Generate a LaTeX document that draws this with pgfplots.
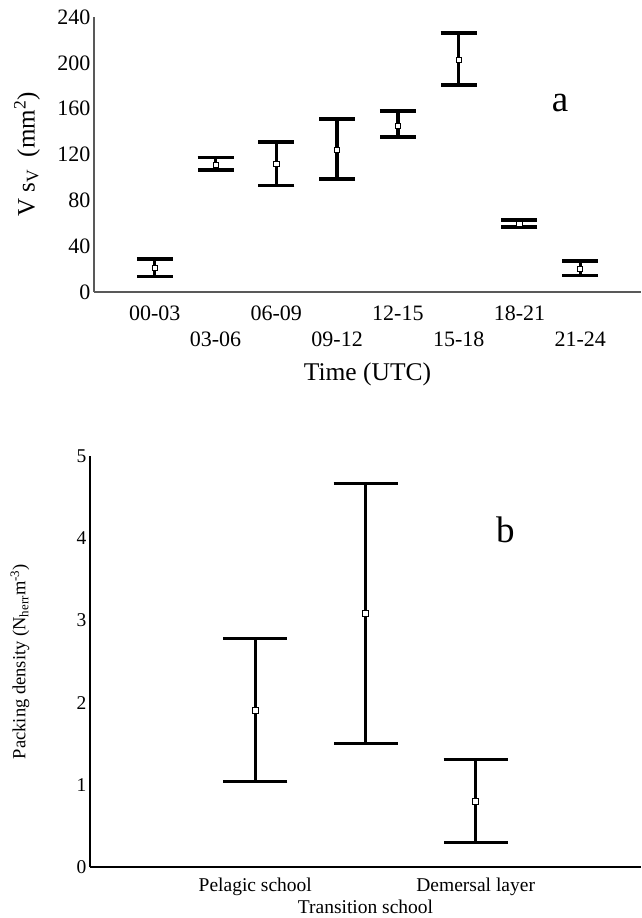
\documentclass[border=0pt]{standalone}
\usepackage{fontspec}
\setmainfont{Liberation Serif}
\usepackage{pgfplots}
\pgfplotsset{compat=1.18}

\newcommand{\fs}[1]{\fontsize{#1}{#1}\selectfont}

\pgfplotsset{
  panel/.style={
    scale only axis, clip=false,
    axis lines=left, axis line style={-},
    major tick length=0pt,
    /pgf/number format/assume math mode=true,
  },
  bars/.style={draw=none, forget plot,
    error bars/.cd, y dir=both, y explicit,
    error bar style={draw=black, solid, line width=#1},
    /pgfplots/.cd,
  },
  means/.style={only marks, mark=square*, mark size=#1,
    mark options={fill=white, draw=black, line width=0.7pt}},
}

\begin{document}
\begin{tikzpicture}
\useasboundingbox (0,0) rectangle (641pt,-918pt);

% panel a
\begin{axis}[panel,
  at={(94pt,-292pt)}, anchor=south west,
  width=547pt, height=275pt,
  xmin=-1, xmax=8, ymin=0, ymax=240,
  ytick={0,40,...,240},
  xtick={0,2,4,6}, xticklabels={00-03,06-09,12-15,18-21},
  extra x ticks={1,3,5,7}, extra x tick labels={03-06,09-12,15-18,21-24},
  extra x tick style={tick label style={yshift=-26pt}},
  x tick label style={yshift=-10pt},
  tick label style={font=\fs{22}},
  axis line style={draw=black!65, line width=1.3pt},
  xlabel={Time (UTC)},
  ylabel={V s\textsubscript{V}\enspace(mm\textsuperscript{2})},
  every axis x label/.style={at={(axis description cs:0.5,-0.30)}, anchor=center, font=\fs{25.5}},
  every axis y label/.style={at={(axis description cs:-0.1225,0.5)}, rotate=90, anchor=center, font=\fs{25}},
]
\addplot[bars=3.3pt, error bars/error mark options={rotate=90, black, mark size=18pt, line width=3.8pt}]
  coordinates {
  (0,21.1)  += (0,7.8)  -= (0,7.5)
  (1,110.9) += (0,6.4)  -= (0,4.6)
  (2,111.8) += (0,19.3) -= (0,18.8)
  (3,124.2) += (0,26.8) -= (0,25.7)
  (4,145.0) += (0,12.7) -= (0,9.8)
  (5,202.7) += (0,23.1) -= (0,22.2)
  (6,59.8)  += (0,3.2)  -= (0,3.2)
  (7,20.5)  += (0,6.4)  -= (0,6.1)
  };
\addplot[means=2.6pt] coordinates {
  (0,21.1) (1,110.9) (2,111.8) (3,124.2) (4,145.0) (5,202.7) (6,59.8) (7,20.5)};
\node[font=\fs{37}] at (axis cs:6.67,165) {a};
\end{axis}

% panel b
\begin{axis}[panel,
  at={(90pt,-867pt)}, anchor=south west,
  width=551pt, height=411pt,
  xmin=-0.5, xmax=4.5, ymin=0, ymax=5,
  ytick={0,1,...,5},
  xtick={1,3}, xticklabels={Pelagic school,Demersal layer},
  extra x ticks={2}, extra x tick labels={Transition school},
  extra x tick style={tick label style={yshift=-22pt}},
  x tick label style={yshift=-7pt},
  tick label style={font=\fs{19.5}},
  axis line style={draw=black, line width=2.6pt},
  ylabel={Packing density (N\textsubscript{herr}m\textsuperscript{-3})},
  every axis y label/.style={at={(axis description cs:-0.127,0.5)}, rotate=90, anchor=center, font=\fs{18.5}},
]
\addplot[bars=3pt, error bars/error mark options={rotate=90, black, mark size=32pt, line width=3pt}]
  coordinates {
  (1,1.91) += (0,0.87) -= (0,0.87)
  (2,3.08) += (0,1.59) -= (0,1.58)
  (3,0.80) += (0,0.51) -= (0,0.50)
  };
\addplot[means=3pt] coordinates {(1,1.91) (2,3.08) (3,0.80)};
\node[font=\fs{37}] at (axis cs:3.27,4.1) {b};
\end{axis}
\end{tikzpicture}
\end{document}
